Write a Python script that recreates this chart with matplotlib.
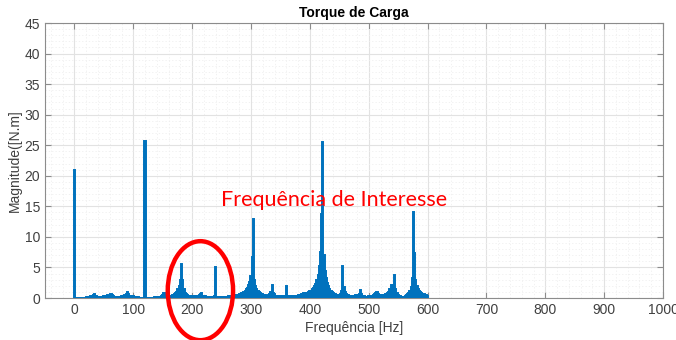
import numpy as np
import matplotlib.pyplot as plt
from matplotlib.patches import Ellipse
from matplotlib.ticker import MultipleLocator

plt.rcParams['font.family'] = ['Liberation Sans', 'DejaVu Sans']

# espectro do torque de carga, bins de 2 Hz de 0 a 600 Hz
freq_step = 2.0
mag_0_98 = [
    20.9, 0, 0, 0, 0, 0, 0, 0, 0, 0,
    0.1, 0.15, 0.2, 0.2, 0.25, 0.3, 0.45, 0.7, 0.4, 0.25,
    0.2, 0.2, 0.15, 0.2, 0.2, 0.25, 0.3, 0.3, 0.5, 0.35,
    0.4, 0.7, 0.45, 0.3, 0.2, 0.2, 0.15, 0.15, 0.2, 0.2,
    0.25, 0.3, 0.4, 0.5, 0.7, 1.0, 0.6, 0.4, 0.3, 0.3,
]
mag_100_198 = [
    0.25, 0.2, 0.2, 0.15, 0.1, 0.05, 0, 0, 0, 0,
    25.7, 0, 0, 0, 0, 0, 0.05, 0.05, 0.1, 0.1,
    0.1, 0.1, 0.15, 0.2, 0.3, 0.45, 0.9, 0.5, 0.35, 0.3,
    0.3, 0.35, 0.4, 0.45, 0.5, 0.6, 0.8, 1.0, 1.4, 2.0,
    3.0, 5.6, 3.0, 1.5, 0.9, 0.6, 0.45, 0.35, 0.3, 0.3,
]
mag_200_298 = [
    0.25, 0.25, 0.25, 0.3, 0.35, 0.4, 0.5, 0.6, 0.9, 0.4,
    0.3, 0.25, 0.2, 0.2, 0.2, 0.2, 0.2, 0.2, 0.2, 0.25,
    5.0, 0.2, 0.15, 0.15, 0.15, 0.2, 0.2, 0.2, 0.2, 0.2,
    0.2, 0.25, 0.3, 0.3, 0.35, 0.4, 0.4, 0.45, 0.5, 0.55,
    0.6, 0.7, 0.8, 0.9, 1.0, 1.2, 1.4, 1.7, 2.1, 2.7,
]
mag_300_398 = [
    3.6, 6.7, 13.0, 3.0, 2.0, 1.5, 1.2, 1.0, 0.8, 0.7,
    0.6, 0.5, 0.45, 0.4, 0.4, 0.45, 0.6, 1.0, 2.2, 0.9,
    0.6, 0.4, 0.3, 0.25, 0.25, 0.25, 0.25, 0.25, 0.3, 0.35,
    1.9, 0.3, 0.25, 0.25, 0.3, 0.3, 0.3, 0.3, 0.35, 0.4,
    0.45, 0.5, 0.55, 0.6, 0.7, 0.8, 0.9, 0.85, 0.9, 1.0,
]
mag_400_498 = [
    1.1, 1.2, 1.4, 1.6, 1.9, 2.3, 2.9, 3.8, 5.2, 7.5,
    13.7, 25.6, 7.0, 4.5, 3.2, 2.4, 1.9, 1.5, 1.2, 1.0,
    0.85, 0.7, 0.6, 0.55, 0.5, 0.55, 0.7, 1.2, 5.2, 1.8,
    1.0, 0.7, 0.55, 0.45, 0.4, 0.4, 0.35, 0.35, 0.4, 0.5,
    0.45, 0.5, 0.7, 1.25, 0.6, 0.35, 0.25, 0.2, 0.2, 0.2,
]
mag_500_600 = [
    0.25, 0.25, 0.3, 0.35, 0.45, 0.6, 0.8, 1.0, 0.7, 0.55,
    0.5, 0.5, 0.5, 0.55, 0.6, 0.7, 0.8, 1.0, 1.4, 2.2,
    1.5, 2.1, 3.7, 1.4, 0.8, 0.5, 0.35, 0.25, 0.2, 0.2,
    0.2, 0.3, 0.45, 0.6, 0.8, 1.2, 1.8, 3.2, 14.1, 7.4,
    3.0, 2.0, 1.5, 1.2, 1.0, 0.8, 0.7, 0.6, 0.5, 0.45,
    0.4,
]

magnitude = np.array(mag_0_98 + mag_100_198 + mag_200_298
                     + mag_300_398 + mag_400_498 + mag_500_600)
freq = np.arange(len(magnitude)) * freq_step

blue = '#0072BD'
txt = '#404040'

fig = plt.figure(figsize=(6.76, 3.40), dpi=100)
ax = fig.add_axes([0.0666, 0.1235, 0.9142, 0.8088])

ax.bar(freq, magnitude, width=freq_step, color=blue, edgecolor=blue,
       linewidth=1.4, zorder=3)

ax.set_xlim(-50, 1000)
ax.set_ylim(0, 45)
ax.xaxis.set_major_locator(MultipleLocator(100))
ax.xaxis.set_minor_locator(MultipleLocator(20))
ax.yaxis.set_major_locator(MultipleLocator(5))
ax.yaxis.set_minor_locator(MultipleLocator(1))

ax.grid(which='major', color='#e2e2e2', linewidth=0.8, zorder=0)
ax.grid(which='minor', color='#efefef', linewidth=0.6, linestyle=(0, (1.5, 2.5)), zorder=0)
ax.set_axisbelow(True)

ax.tick_params(which='both', direction='in', top=True, right=True,
               colors=txt, labelsize=10)
ax.tick_params(which='minor', length=0)
ax.tick_params(which='major', length=4, color='#8c8c8c')
for s in ax.spines.values():
    s.set_color('#8c8c8c')
    s.set_linewidth(0.8)

ax.set_title('Torque de Carga', fontsize=10, fontweight='bold', pad=4)
ax.set_xlabel('Frequência [Hz]', fontsize=10, color=txt, labelpad=3)
ax.set_ylabel('Magnitude([N.m]', fontsize=10, color=txt, labelpad=2)

ax.text(441, 16.0, 'Frequência de Interesse', color='red', fontsize=15.5,
        family=['Lato', 'DejaVu Sans'], ha='center', va='center', zorder=5)

ell = Ellipse((214, 1.2), width=111, height=16.2, fill=False,
              edgecolor='red', linewidth=3.2, clip_on=False, zorder=6)
ax.add_patch(ell)

fig.savefig('out.png', dpi=100)
